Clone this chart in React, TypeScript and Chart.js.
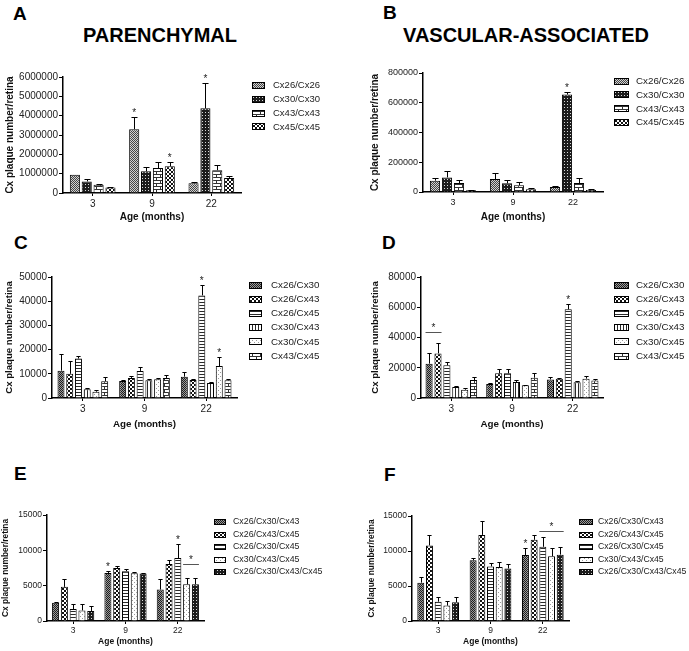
import React, { useEffect, useRef } from 'react';
import { Chart, registerables } from 'chart.js';

Chart.register(...registerables);

const FONT = '"Liberation Sans", Arial, Helvetica, sans-serif';

// ---------- categories & labels ----------
const AGES = ['3', '9', '22'];
const SINGLE_LABELS = ['Cx26/Cx26', 'Cx30/Cx30', 'Cx43/Cx43', 'Cx45/Cx45'];
const PAIR_LABELS = ['Cx26/Cx30', 'Cx26/Cx43', 'Cx26/Cx45', 'Cx30/Cx43', 'Cx30/Cx45', 'Cx43/Cx45'];
const MULTI_LABELS = ['Cx26/Cx30/Cx43', 'Cx26/Cx43/Cx45', 'Cx26/Cx30/Cx45', 'Cx30/Cx43/Cx45', 'Cx26/Cx30/Cx43/Cx45'];

// ---------- A: parenchymal, homotypic ----------
const A_MEANS = [
  [950000, 3300000, 500000],
  [600000, 1120000, 4380000],
  [430000, 1290000, 1180000],
  [280000, 1380000, 780000],
];
const A_SEMS = [
  [0, 620000, 70000],
  [130000, 220000, 1300000],
  [50000, 300000, 260000],
  [40000, 200000, 120000],
];
const A_TICKS = { max: 6000000, step: 1000000 };

// ---------- B: vascular, homotypic ----------
const B_MEANS = [
  [76000, 87000, 33000],
  [98000, 58000, 655000],
  [60000, 45000, 60000],
  [11000, 18000, 13000],
];
const B_SEMS = [
  [18000, 40000, 5000],
  [40000, 22000, 15000],
  [20000, 20000, 36000],
  [4000, 6000, 7000],
];
const B_TICKS = { max: 800000, step: 200000 };

// ---------- C: parenchymal, heterotypic pairs ----------
const C_MEANS = [
  [11300, 7000, 8800],
  [10000, 8300, 7400],
  [16300, 11200, 42400],
  [3600, 7300, 6200],
  [2600, 7700, 13200],
  [6900, 8300, 7300],
];
const C_SEMS = [
  [7000, 400, 2100],
  [5300, 700, 600],
  [900, 1600, 4400],
  [500, 400, 400],
  [800, 400, 3900],
  [1800, 1100, 600],
];
const C_TICKS = { max: 50000, step: 10000 };

// ---------- D: vascular, heterotypic pairs ----------
const D_MEANS = [
  [22700, 9300, 12300],
  [29500, 16300, 12800],
  [21600, 16300, 58600],
  [7300, 10600, 10400],
  [5500, 8400, 12800],
  [11900, 13400, 11500],
];
const D_SEMS = [
  [6800, 400, 1600],
  [7000, 2700, 400],
  [2200, 3100, 3700],
  [400, 1500, 800],
  [900, 400, 1700],
  [2000, 3300, 800],
];
const D_TICKS = { max: 80000, step: 20000 };

// ---------- E: parenchymal, triple/quadruple ----------
const E_MEANS = [
  [2600, 6800, 4450],
  [4830, 7500, 8050],
  [1700, 7050, 8900],
  [1500, 6770, 5200],
  [1420, 6720, 5200],
];
const E_SEMS = [
  [150, 300, 1550],
  [1170, 300, 650],
  [760, 280, 2000],
  [870, 230, 900],
  [760, 80, 900],
];
const E_TICKS = { max: 15000, step: 5000 };

// ---------- F: vascular, triple/quadruple ----------
const F_MEANS = [
  [5480, 8670, 9430],
  [10800, 12300, 11600],
  [2760, 7800, 10600],
  [2200, 7700, 9240],
  [2670, 7500, 9480],
];
const F_SEMS = [
  [810, 280, 1070],
  [1440, 2000, 700],
  [670, 500, 1400],
  [660, 700, 1260],
  [760, 700, 1090],
];
const F_TICKS = { max: 15000, step: 5000 };

// significance marks: [datasetIndex, ageIndex]
const A_STARS = [[0, 1], [3, 1], [1, 2]];
const B_STARS = [[1, 2]];
const C_STARS = [[2, 2], [4, 2]];
const D_STARS = [[2, 2]];
const E_STARS = [[0, 1], [2, 2]];
const F_STARS = [[0, 2]];
// bracket lines: [fromDataset, toDataset, ageIndex, value]
const D_LINES = [[0, 1, 0, 43500]];
const E_LINES = [[3, 4, 2, 8100]];
const F_LINES = [[2, 4, 2, 12900]];

const Y_TITLE = 'Cx plaque number/retina';
const X_TITLE = 'Age (months)';

// ---------- patterns ----------
function makePattern(kind: string): CanvasPattern | string {
  const c = document.createElement('canvas');
  const g = c.getContext('2d');
  if (!g) return '#888';
  const px = (x: number, y: number, col: string, w = 1, h = 1) => {
    g.fillStyle = col;
    g.fillRect(x, y, w, h);
  };
  switch (kind) {
    case 'fine':
      c.width = 2; c.height = 2;
      px(0, 0, '#d2d2d2', 2, 2); px(0, 0, '#454545'); px(1, 1, '#454545');
      break;
    case 'medium':
      c.width = 2; c.height = 2;
      px(0, 0, '#9a9a9a', 2, 2); px(0, 0, '#1e1e1e'); px(1, 1, '#1e1e1e');
      break;
    case 'dark':
      c.width = 3; c.height = 3;
      px(0, 0, '#1c1c1c', 3, 3); px(1, 1, '#d8d8d8');
      break;
    case 'brick':
      c.width = 8; c.height = 6;
      px(0, 0, '#ffffff', 8, 6);
      px(0, 0, '#333', 8, 1); px(0, 3, '#333', 8, 1);
      px(0, 0, '#333', 1, 3); px(4, 3, '#333', 1, 3);
      break;
    case 'net':
      c.width = 4; c.height = 4;
      px(0, 0, '#111', 4, 4); px(1, 0, '#fff', 2, 1); px(0, 1, '#fff', 1, 2); px(3, 1, '#fff', 1, 2); px(1, 3, '#fff', 2, 1);
      break;
    case 'bigCheck':
      c.width = 4; c.height = 4;
      px(0, 0, '#111', 4, 4); px(0, 0, '#fff', 2, 2); px(2, 2, '#fff', 2, 2);
      break;
    case 'hlines':
      c.width = 1; c.height = 3;
      px(0, 0, '#fff', 1, 3); px(0, 0, '#2a2a2a');
      break;
    case 'vlines':
      c.width = 3; c.height = 1;
      px(0, 0, '#fff', 3, 1); px(0, 0, '#2a2a2a');
      break;
    case 'dots':
      c.width = 4; c.height = 4;
      px(0, 0, '#fff', 4, 4); px(0, 0, '#9a9a9a'); px(2, 2, '#9a9a9a');
      break;
    default:
      return '#888';
  }
  return g.createPattern(c, 'repeat') || '#888';
}

type Spec = {
  canvas: [number, number, number, number];
  area: [number, number, number, number];
  labels: string[];
  means: number[][];
  sems: number[][];
  patterns: string[];
  ticks: { max: number; step: number };
  tickFont: number;
  yTitleFont: number;
  yTitleX: number;
  xTitleFont: number;
  xTitleY: number;
  catPct: number;
  barPct: number;
  legend: { boxX: number; boxW: number; boxH: number; textX: number; y0: number; dy: number; font: number };
  stars: number[][];
  lines: number[][];
};

const SPECS: Spec[] = [
  {
    canvas: [0, 60, 340, 165], area: [63, 77, 241, 193],
    labels: SINGLE_LABELS, means: A_MEANS, sems: A_SEMS, patterns: ['fine', 'dark', 'brick', 'net'],
    ticks: A_TICKS, tickFont: 10, yTitleFont: 10, yTitleX: 10, xTitleFont: 10, xTitleY: 217,
    catPct: 0.8, barPct: 0.85,
    legend: { boxX: 252, boxW: 13, boxH: 7, textX: 273, y0: 85.5, dy: 13.8, font: 9.5 },
    stars: A_STARS, lines: [],
  },
  {
    canvas: [362, 55, 327, 170], area: [423, 73, 603, 192],
    labels: SINGLE_LABELS, means: B_MEANS, sems: B_SEMS, patterns: ['fine', 'dark', 'brick', 'net'],
    ticks: B_TICKS, tickFont: 9, yTitleFont: 10, yTitleX: 375, xTitleFont: 10, xTitleY: 217,
    catPct: 0.8, barPct: 0.85,
    legend: { boxX: 614, boxW: 15, boxH: 7, textX: 636, y0: 81, dy: 13.9, font: 9.8 },
    stars: B_STARS, lines: [],
  },
  {
    canvas: [0, 260, 345, 175], area: [52, 277, 237, 398],
    labels: PAIR_LABELS, means: C_MEANS, sems: C_SEMS, patterns: ['medium', 'bigCheck', 'hlines', 'vlines', 'dots', 'brick'],
    ticks: C_TICKS, tickFont: 10, yTitleFont: 9.6, yTitleX: 9, xTitleFont: 9.8, xTitleY: 424,
    catPct: 0.85, barPct: 0.8,
    legend: { boxX: 249, boxW: 13, boxH: 7, textX: 271, y0: 285, dy: 14.2, font: 9.8 },
    stars: C_STARS, lines: [],
  },
  {
    canvas: [362, 260, 327, 175], area: [421, 277, 603, 398],
    labels: PAIR_LABELS, means: D_MEANS, sems: D_SEMS, patterns: ['medium', 'bigCheck', 'hlines', 'vlines', 'dots', 'brick'],
    ticks: D_TICKS, tickFont: 10, yTitleFont: 9.6, yTitleX: 375, xTitleFont: 9.8, xTitleY: 424,
    catPct: 0.88, barPct: 0.8,
    legend: { boxX: 614, boxW: 15, boxH: 7, textX: 636, y0: 285, dy: 14.2, font: 9.8 },
    stars: D_STARS, lines: D_LINES,
  },
  {
    canvas: [0, 500, 345, 151], area: [47, 515, 204, 621],
    labels: MULTI_LABELS, means: E_MEANS, sems: E_SEMS, patterns: ['medium', 'bigCheck', 'hlines', 'dots', 'dark'],
    ticks: E_TICKS, tickFont: 8.5, yTitleFont: 8.4, yTitleX: 6, xTitleFont: 8.5, xTitleY: 642,
    catPct: 0.84, barPct: 0.8,
    legend: { boxX: 214, boxW: 12, boxH: 6, textX: 233, y0: 522, dy: 12.5, font: 8.8 },
    stars: E_STARS, lines: E_LINES,
  },
  {
    canvas: [362, 500, 327, 151], area: [412, 516, 569, 621],
    labels: MULTI_LABELS, means: F_MEANS, sems: F_SEMS, patterns: ['medium', 'bigCheck', 'hlines', 'dots', 'dark'],
    ticks: F_TICKS, tickFont: 8.5, yTitleFont: 8.4, yTitleX: 372, xTitleFont: 8.5, xTitleY: 642,
    catPct: 0.83, barPct: 0.8,
    legend: { boxX: 579, boxW: 14, boxH: 6, textX: 598, y0: 522, dy: 12.5, font: 8.7 },
    stars: F_STARS, lines: F_LINES,
  },
];

function Panel({ spec }: { spec: Spec }) {
  const ref = useRef<HTMLCanvasElement | null>(null);
  useEffect(() => {
    const el = ref.current;
    if (!el) return;
    const [cl, ct, cw, ch] = spec.canvas;
    const [al, at, ar, ab] = spec.area;
    const fills = spec.patterns.map(makePattern);
    const yLH = spec.yTitleFont * 1.2;
    const xLH = spec.xTitleFont * 1.2;

    const decor = {
      id: 'decor',
      afterDatasetsDraw(chart: any) {
        const ctx = chart.ctx as CanvasRenderingContext2D;
        const ys = chart.scales.y;
        ctx.save();
        ctx.strokeStyle = '#000';
        ctx.lineWidth = 1;
        // error bars (upper SEM)
        spec.means.forEach((row, i) => {
          const meta = chart.getDatasetMeta(i);
          row.forEach((v, j) => {
            const e = spec.sems[i][j];
            if (!e) return;
            const bar = meta.data[j];
            const top = Math.round(ys.getPixelForValue(v + e)) + 0.5;
            const x = Math.round(bar.x) + 0.5;
            const hw = bar.width * 0.3;
            ctx.beginPath();
            ctx.moveTo(x, bar.y);
            ctx.lineTo(x, top);
            ctx.moveTo(x - hw, top);
            ctx.lineTo(x + hw, top);
            ctx.stroke();
          });
        });
        // stars
        ctx.fillStyle = '#222';
        ctx.font = `10px ${FONT}`;
        ctx.textAlign = 'center';
        ctx.textBaseline = 'alphabetic';
        spec.stars.forEach(([i, j]) => {
          const bar = chart.getDatasetMeta(i).data[j];
          const top = ys.getPixelForValue(spec.means[i][j] + spec.sems[i][j]);
          ctx.fillText('*', bar.x, top - 1);
        });
        // bracket lines
        ctx.strokeStyle = '#555';
        spec.lines.forEach(([a, b, j, val]) => {
          const ba = chart.getDatasetMeta(a).data[j];
          const bb = chart.getDatasetMeta(b).data[j];
          const y = Math.round(ys.getPixelForValue(val)) + 0.5;
          const x1 = ba.x - ba.width / 2;
          const x2 = bb.x + bb.width / 2;
          ctx.beginPath();
          ctx.moveTo(x1, y);
          ctx.lineTo(x2, y);
          ctx.stroke();
          ctx.fillText('*', (x1 + x2) / 2, y - 2);
        });
        // legend
        const L = spec.legend;
        ctx.textAlign = 'left';
        ctx.textBaseline = 'middle';
        ctx.font = `${L.font}px ${FONT}`;
        spec.labels.forEach((lab, i) => {
          const cy = L.y0 + i * L.dy - ct;
          const bx = L.boxX - cl;
          const by = Math.round(cy - L.boxH / 2);
          ctx.fillStyle = fills[i] as any;
          ctx.fillRect(bx, by, L.boxW, L.boxH);
          ctx.strokeStyle = '#000';
          ctx.strokeRect(bx + 0.5, by + 0.5, L.boxW - 1, L.boxH - 1);
          ctx.fillStyle = '#222';
          ctx.fillText(lab, L.textX - cl, cy);
        });
        ctx.restore();
      },
    };

    const chart = new Chart(el, {
      type: 'bar',
      data: {
        labels: AGES,
        datasets: spec.labels.map((lab, i) => ({
          label: lab,
          data: spec.means[i],
          backgroundColor: fills[i] as any,
          borderColor: '#000',
          borderWidth: 1,
          categoryPercentage: spec.catPct,
          barPercentage: spec.barPct,
        })),
      },
      options: {
        responsive: false,
        animation: false,
        events: [],
        layout: { padding: { left: 0, top: at - ct, right: cl + cw - ar, bottom: 0 } },
        plugins: { legend: { display: false }, tooltip: { enabled: false } },
        scales: {
          x: {
            offset: true,
            grid: { offset: false, drawOnChartArea: false, drawTicks: true, tickLength: 3, color: '#000', lineWidth: 1 },
            border: { display: true, color: '#000', width: 1.5 },
            ticks: { font: { family: FONT, size: spec.tickFont }, color: '#222', padding: 2, maxRotation: 0 },
            title: {
              display: true, text: X_TITLE, color: '#111',
              font: { family: FONT, size: spec.xTitleFont, weight: 'bold' },
              padding: { top: 0, bottom: Math.max(0, ct + ch - spec.xTitleY - xLH / 2) },
            },
            afterFit: (s: any) => { s.height = ct + ch - ab; },
          },
          y: {
            min: 0,
            max: spec.ticks.max,
            grid: { drawOnChartArea: false, drawTicks: true, tickLength: 4, color: '#000', lineWidth: 1 },
            border: { display: true, color: '#000', width: 1.5 },
            ticks: {
              stepSize: spec.ticks.step,
              font: { family: FONT, size: spec.tickFont },
              color: '#222',
              padding: 1,
              callback: (v: any) => String(v),
            },
            title: {
              display: true, text: Y_TITLE, color: '#111',
              font: { family: FONT, size: spec.yTitleFont, weight: 'bold' },
              padding: { top: Math.max(0, spec.yTitleX - cl - yLH / 2), bottom: 0 },
            },
            afterFit: (s: any) => { s.width = al - cl; },
          },
        },
      },
      plugins: [decor],
    } as any);
    return () => chart.destroy();
  }, [spec]);
  const [cl, ct, cw, ch] = spec.canvas;
  return (
    <canvas
      ref={ref}
      width={cw}
      height={ch}
      style={{ position: 'absolute', left: cl, top: ct, width: cw, height: ch }}
    />
  );
}

const LETTERS: [string, number, number][] = [
  ['A', 13, 4],
  ['B', 383, 3],
  ['C', 14, 233],
  ['D', 382, 233],
  ['E', 14, 464],
  ['F', 384, 465],
];
const TITLES: [string, number][] = [
  ['PARENCHYMAL', 160],
  ['VASCULAR-ASSOCIATED', 526],
];

export default function App() {
  return (
    <div style={{ position: 'absolute', left: 0, top: 0, width: 689, height: 651, background: '#fff', overflow: 'hidden', fontFamily: FONT }}>
      {LETTERS.map(([t, x, y]) => (
        <div key={t} style={{ position: 'absolute', left: x, top: y, fontSize: 19, lineHeight: '19px', fontWeight: 'bold', color: '#000' }}>{t}</div>
      ))}
      {TITLES.map(([t, cx]) => (
        <div key={t} style={{ position: 'absolute', left: cx - 160, top: 25, width: 320, textAlign: 'center', fontSize: 20, lineHeight: '20px', fontWeight: 'bold', color: '#000' }}>{t}</div>
      ))}
      {SPECS.map((s, i) => <Panel key={i} spec={s} />)}
    </div>
  );
}
